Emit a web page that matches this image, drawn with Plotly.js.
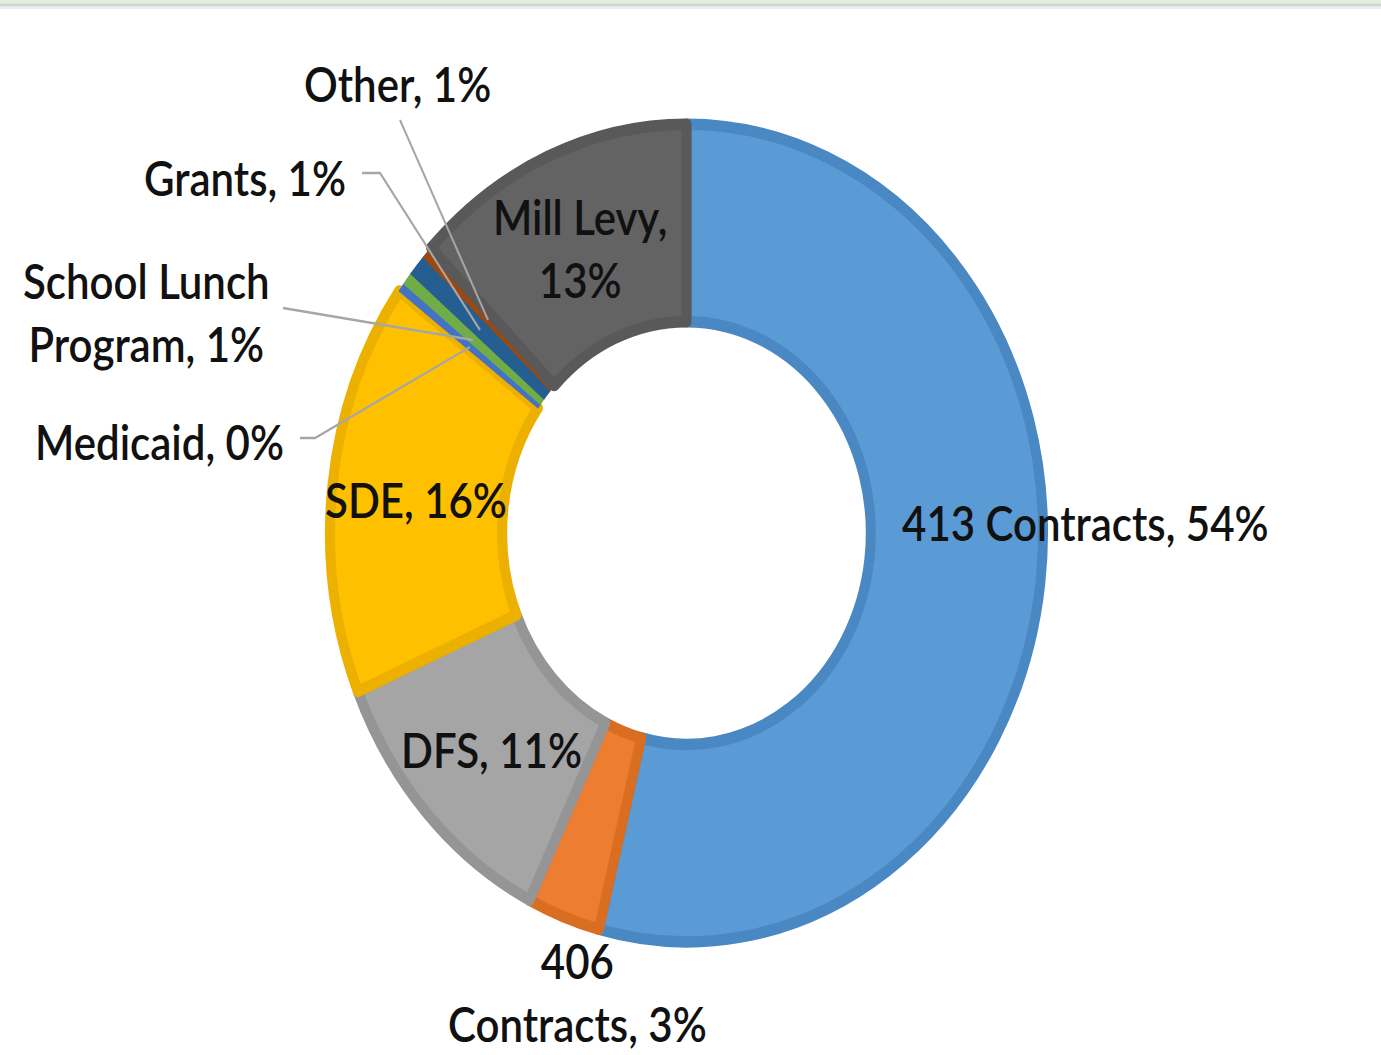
<!DOCTYPE html>
<html>
<head>
<meta charset="utf-8">
<script src="https://cdn.plot.ly/plotly-3.0.1.min.js"></script>
<style>
html,body{margin:0;padding:0;background:#fff;width:1381px;height:1055px;}
#chart{width:1381px;height:920px;transform:scaleY(1.146739);transform-origin:0 0;}
</style>
</head>
<body>
<div id="chart"></div>
<script>
// Data
const categories = ["413 Contracts", "406 Contracts", "DFS", "SDE", "Medicaid", "School Lunch Program", "Grants", "Other", "Mill Levy"];
const shares = [53.9, 3.3, 11.4, 16.4, 0.35, 0.5, 0.85, 0.5, 12.7];
const shareLabels = ["54%", "3%", "11%", "16%", "0%", "1%", "1%", "1%", "13%"];

// Styles
const fillColors = ["#5B9BD5", "#ED7D31", "#A5A5A5", "#FFC000", "#4472C4", "#70AD47", "#255E91", "#9E480E", "#636363"];
const edgeColors = ["#4A88C4", "#D96D22", "#959595", "#EBB000", "#4472C4", "#70AD47", "#255E91", "#9E480E", "#595959"];
const edgeWidths = [10, 10, 10, 10, 1, 1, 1, 1, 10];

const W = 1381, H = 1055;
const px = x => x / W;
const py = y => 1 - y / H;

const txt = i => categories[i] + ", " + shareLabels[i];

const font = {family: "Lato, 'Open Sans', sans-serif", size: 42, color: "#111111", weight: 600};

const annotations = [
  {text: txt(7), x: px(397), y: py(84), xanchor: "center"},
  {text: txt(6), x: px(348), y: py(178), xanchor: "right"},
  {text: "School Lunch<br>Program, " + shareLabels[5], x: px(146), y: py(313), xanchor: "center", align: "center"},
  {text: txt(4), x: px(286), y: py(441), xanchor: "right"},
  {text: "Mill Levy,<br>" + shareLabels[8], x: px(580), y: py(248), xanchor: "center", align: "center"},
  {text: txt(3), x: px(416), y: py(500), xanchor: "center"},
  {text: txt(2), x: px(491), y: py(750), xanchor: "center"},
  {text: txt(0), x: px(1085), y: py(523), xanchor: "center"},
  {text: "406<br>Contracts, " + shareLabels[1], x: px(577), y: py(993), xanchor: "center", align: "center"}
].map(a => Object.assign({xref: "paper", yref: "paper", yanchor: "middle", showarrow: false, font: font}, a));

const path = pts => "M " + pts.map(p => px(p[0]) + "," + py(p[1])).join(" L ");
const leaderStyle = {type: "path", xref: "paper", yref: "paper", line: {color: "#A6A6A6", width: 2}, layer: "above"};
const shapes = [
  Object.assign({path: path([[400, 120], [488, 320]])}, leaderStyle),
  Object.assign({path: path([[362, 173], [380, 173], [480, 330]])}, leaderStyle),
  Object.assign({path: path([[283, 308], [372, 323], [473, 340]])}, leaderStyle),
  Object.assign({path: path([[300, 438], [315, 438], [470, 347]])}, leaderStyle),
  {type: "rect", xref: "paper", yref: "paper", x0: 0, x1: 1, y0: py(3.5), y1: 1, fillcolor: "#E2EFD9", line: {width: 0}},
  {type: "rect", xref: "paper", yref: "paper", x0: 0, x1: 1, y0: py(6.5), y1: py(3.5), fillcolor: "#D3D3D3", line: {width: 0}},
  {type: "rect", xref: "paper", yref: "paper", x0: 0, x1: 1, y0: py(9), y1: py(6.5), fillcolor: "#EDEDED", line: {width: 0}}
];

const trace = {
  type: "pie",
  labels: categories,
  values: shares,
  sort: false,
  direction: "clockwise",
  rotation: 0,
  hole: 0.517,
  textinfo: "none",
  hoverinfo: "label+percent",
  showlegend: false,
  domain: {x: [0.23896, 0.75525], y: [0.1068, 0.8827]},
  marker: {colors: fillColors, line: {color: edgeColors, width: edgeWidths}}
};

const layout = {
  width: 1381,
  height: 920,
  margin: {l: 0, r: 0, t: 0, b: 0},
  paper_bgcolor: "#FFFFFF",
  showlegend: false,
  annotations: annotations,
  shapes: shapes
};

Plotly.newPlot("chart", [trace], layout, {displayModeBar: false, staticPlot: true});
</script>
</body>
</html>
